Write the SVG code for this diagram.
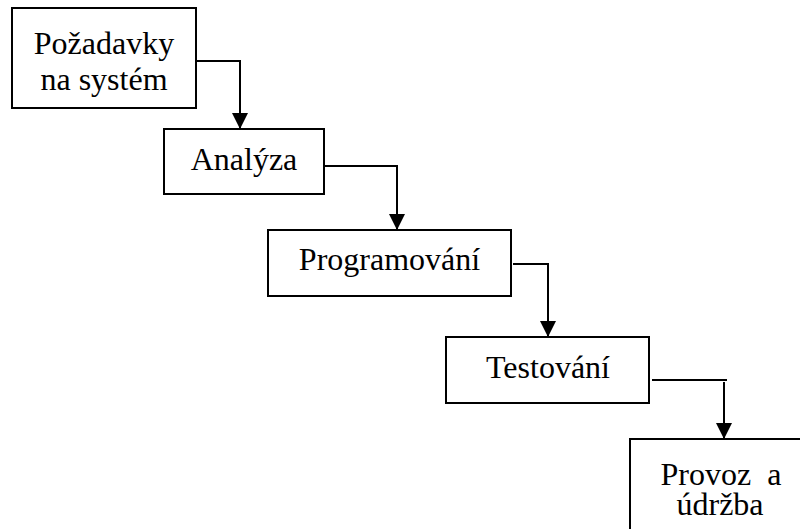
<svg xmlns="http://www.w3.org/2000/svg" width="800" height="529" viewBox="0 0 800 529">
<style>
.box{fill:#fff;stroke:#000;stroke-width:2}
.lbl{font-family:"Liberation Serif","Times New Roman",serif;font-size:32px;fill:#000;text-anchor:middle}
.conn{fill:none;stroke:#000;stroke-width:2}
</style>
<defs>
<marker id="arr" markerUnits="userSpaceOnUse" markerWidth="18" markerHeight="18" refX="16" refY="8" orient="auto">
<path d="M0,0 L16,8 L0,16 Z" fill="#000"/>
</marker>
</defs>
<rect width="800" height="529" fill="#fff"/>
<g id="n1">
<rect class="box" x="12" y="8" width="184" height="100"/>
<text class="lbl" x="104" y="54">Požadavky</text>
<text class="lbl" x="104" y="90">na systém</text>
</g>
<g id="n2">
<rect class="box" x="164" y="129" width="160" height="65"/>
<text class="lbl" x="244" y="170">Analýza</text>
</g>
<g id="n3">
<rect class="box" x="268" y="230" width="243" height="66"/>
<text class="lbl" x="389.5" y="270">Programování</text>
</g>
<g id="n4">
<rect class="box" x="446" y="337" width="203" height="66"/>
<text class="lbl" x="548" y="378">Testování</text>
</g>
<g id="n5">
<rect class="box" x="630" y="439" width="200" height="120"/>
<text class="lbl" x="721" y="485" xml:space="preserve">Provoz  a</text>
<text class="lbl" x="720" y="515">údržba</text>
</g>
<g id="connectors">
<path class="conn" d="M196,61 H240 V129" marker-end="url(#arr)"/>
<path class="conn" d="M324,166 H397 V230" marker-end="url(#arr)"/>
<path class="conn" d="M513,264 H549 M548,264 V337" marker-end="url(#arr)"/>
<path class="conn" d="M652,380 H727 M724,382 V439" marker-end="url(#arr)"/>
</g>
</svg>
